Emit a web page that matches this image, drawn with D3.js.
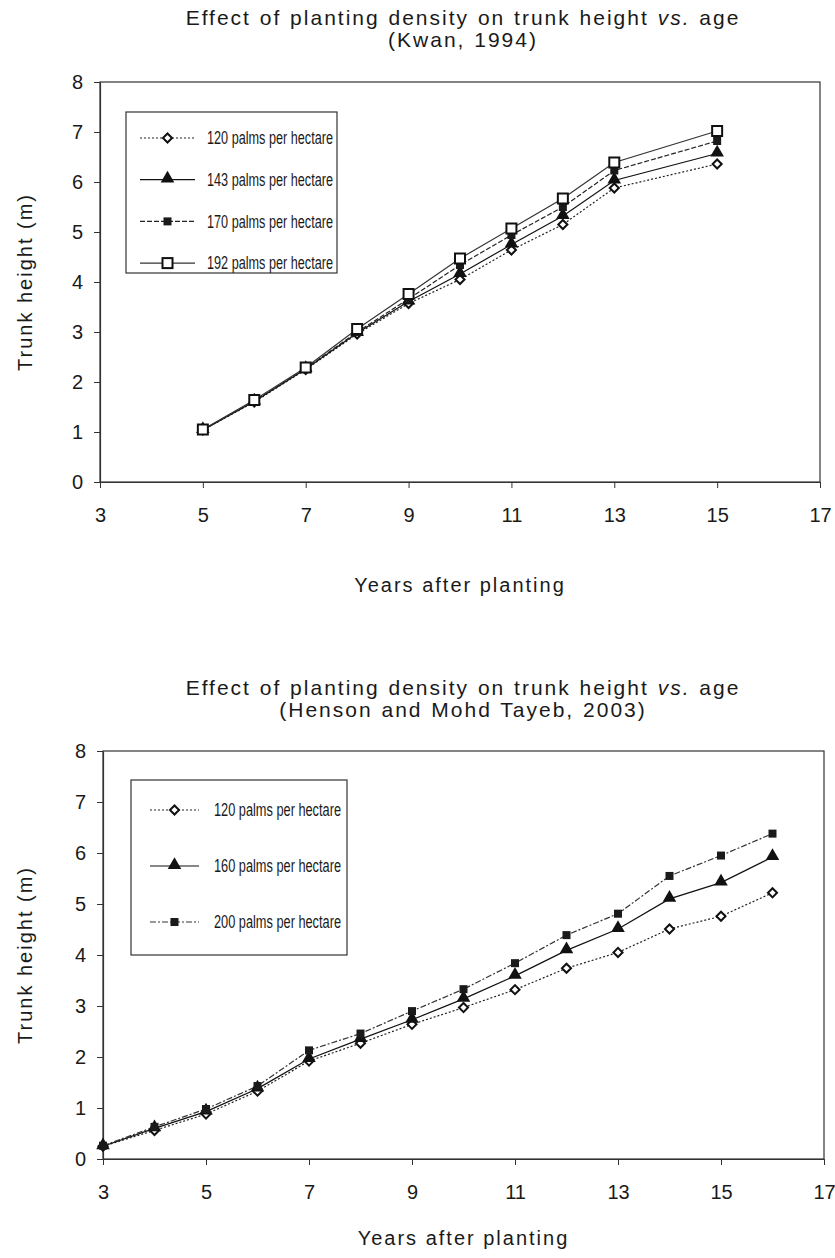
<!DOCTYPE html>
<html>
<head>
<meta charset="utf-8">
<title>Trunk height vs. age</title>
<script src="https://d3js.org/d3.v7.min.js"></script>
<style>
body {margin:0; background:white;}
svg text {font-family:"Liberation Sans", Arial, sans-serif; fill:#1a1a1a;}
.title {font-size:21px; letter-spacing:2px; word-spacing:1px;}
.axtitle {font-size:20px; letter-spacing:2px;}
.tick text {font-size:20px; font-family:"Liberation Sans", Arial, sans-serif;}
.legend text {font-family:"Liberation Sans Narrow", "Liberation Sans", sans-serif; font-size:17.5px;}
</style>
</head>
<body>
<svg width="835" height="1258"></svg>

<script>
// top chart: Kwan 1994
var kwan_years = [5,6,7,8,9,10,11,12,13,15]
var kwan_120 = [1.04,1.60,2.25,2.96,3.57,4.05,4.64,5.15,5.88,6.36]
var kwan_143 = [1.04,1.61,2.26,2.98,3.61,4.16,4.75,5.32,6.03,6.57]
var kwan_170 = [1.04,1.62,2.27,3.00,3.66,4.34,4.94,5.50,6.23,6.82]
var kwan_192 = [1.05,1.64,2.29,3.06,3.76,4.47,5.07,5.67,6.39,7.02]
var kwan_names = ['120 palms per hectare','143 palms per hectare','170 palms per hectare','192 palms per hectare']

// bottom chart: Henson and Mohd Tayeb 2003
var henson_years = [3,4,5,6,7,8,9,10,11,12,13,14,15,16]
var henson_120 = [0.25,0.56,0.88,1.33,1.92,2.27,2.64,2.97,3.32,3.74,4.05,4.51,4.76,5.22]
var henson_160 = [0.25,0.60,0.93,1.38,1.96,2.35,2.73,3.14,3.59,4.09,4.51,5.10,5.42,5.92]
var henson_200 = [0.26,0.63,0.98,1.43,2.13,2.46,2.90,3.33,3.84,4.39,4.81,5.55,5.95,6.38]
var henson_names = ['120 palms per hectare','160 palms per hectare','200 palms per hectare']

var x_ticks = [3,5,7,9,11,13,15,17]
var y_ticks = [0,1,2,3,4,5,6,7,8]

var svg = d3.select('svg')

// marker drawing
function marker(g, type, cx, cy) {
  if (type == 'diamond') {
    g.append('rect')
      .attr('x',-3.2).attr('y',-3.2).attr('width',6.4).attr('height',6.4)
      .attr('transform','translate('+cx+','+cy+') rotate(45)')
      .attr('fill','white').attr('stroke','#111').attr('stroke-width',2)
  } else if (type == 'triangle') {
    g.append('path')
      .attr('d', d3.symbol().type(d3.symbolTriangle).size(80))
      .attr('transform','translate('+cx+','+(cy-1)+')')
      .attr('fill','#111')
  } else if (type == 'square') {
    g.append('rect')
      .attr('x',cx-4).attr('y',cy-4).attr('width',8).attr('height',8)
      .attr('fill','#1a1a1a')
  } else if (type == 'opensquare') {
    g.append('rect')
      .attr('x',cx-5).attr('y',cy-5).attr('width',10).attr('height',10)
      .attr('fill','white').attr('stroke','#111').attr('stroke-width',2)
  }
}

function drawChart(o) {
  var x = d3.scaleLinear().domain([3,17]).range([o.left,o.right])
  var y = d3.scaleLinear().domain([0,8]).range([o.bottom,o.top])

  //title
  var t = svg.append('text').attr('class','title')
    .attr('text-anchor','middle').attr('x',463).attr('y',o.titleY)
  t.append('tspan').text('Effect of planting density on trunk height ')
  t.append('tspan').attr('font-style','italic').text('vs.')
  t.append('tspan').text(' age')
  svg.append('text').attr('class','title')
    .attr('text-anchor','middle').attr('x',463).attr('y',o.titleY+22)
    .text(o.sub)

  //plot frame
  svg.append('rect')
    .attr('x',o.left).attr('y',o.top)
    .attr('width',o.right-o.left).attr('height',o.bottom-o.top)
    .attr('fill','none').attr('stroke','#333').attr('stroke-width',1.2)

  //axes
  var xa = svg.append('g')
    .attr('transform','translate(0,'+o.bottom+')')
    .call(d3.axisBottom(x).tickValues(x_ticks).tickSize(6).tickPadding(20).tickSizeOuter(0))
  var ya = svg.append('g')
    .attr('transform','translate('+o.left+',0)')
    .call(d3.axisLeft(y).tickValues(y_ticks).tickSize(6).tickPadding(11).tickSizeOuter(0))
  xa.select('.domain').attr('stroke','#333').attr('stroke-width',1.2)
  ya.select('.domain').attr('stroke','#333').attr('stroke-width',1.2)
  xa.selectAll('.tick line').attr('stroke','#333')
  ya.selectAll('.tick line').attr('stroke','#333')

  //axis titles
  svg.append('text').attr('class','axtitle')
    .attr('text-anchor','middle')
    .attr('x',(o.left+o.right)/2).attr('y',o.xTitleY)
    .text('Years after planting')
  svg.append('text').attr('class','axtitle')
    .attr('text-anchor','middle')
    .attr('transform','translate(32,'+((o.top+o.bottom)/2)+') rotate(-90)')
    .text('Trunk height (m)')

  //lines and markers
  var line = d3.line().x(function(d,i){return x(o.years[i])}).y(function(d){return y(d)})
  o.series.forEach(function(s){
    svg.append('path')
      .datum(s.values)
      .attr('d',line)
      .attr('fill','none')
      .attr('stroke',s.color)
      .attr('stroke-width',1.2)
      .attr('stroke-dasharray',s.dash)
  })
  o.series.forEach(function(s){
    var g = svg.append('g')
    s.values.forEach(function(d,i){ marker(g, s.mark, x(o.years[i]), y(d)) })
  })

  //legend
  var lg = svg.append('g').attr('class','legend')
  lg.append('rect')
    .attr('x',o.leg.x).attr('y',o.leg.y).attr('width',o.leg.w).attr('height',o.leg.h)
    .attr('fill','white').attr('stroke','#333').attr('stroke-width',1.2)
  o.series.forEach(function(s,i){
    var ly = o.leg.y + o.leg.first + i*o.leg.step
    lg.append('line')
      .attr('x1',o.leg.x+o.leg.l1).attr('x2',o.leg.x+o.leg.l2)
      .attr('y1',ly).attr('y2',ly)
      .attr('stroke',s.color).attr('stroke-width',1.2).attr('stroke-dasharray',s.dash)
    marker(lg, s.mark, o.leg.x+(o.leg.l1+o.leg.l2)/2, ly)
    // narrow legend font: squeeze the text to the reference width
    lg.append('text')
      .attr('x',o.leg.x+o.leg.tx).attr('y',ly).attr('dy','0.35em')
      .attr('textLength',o.leg.tw).attr('lengthAdjust','spacingAndGlyphs')
      .text(s.name)
  })
}

drawChart({
  left:100, right:820, top:82, bottom:482,
  titleY:25, sub:'(Kwan, 1994)', xTitleY:592,
  years:kwan_years,
  series:[
    {values:kwan_120, name:kwan_names[0], mark:'diamond', dash:'2,2', color:'#222'},
    {values:kwan_143, name:kwan_names[1], mark:'triangle', dash:null, color:'#111'},
    {values:kwan_170, name:kwan_names[2], mark:'square', dash:'5,2', color:'#222'},
    {values:kwan_192, name:kwan_names[3], mark:'opensquare', dash:null, color:'#333'}
  ],
  leg:{x:126, y:112, w:211, h:161, first:26, step:41.7, l1:14, l2:69, tx:81, tw:126}
})

drawChart({
  left:103, right:824, top:751, bottom:1159,
  titleY:695, sub:'(Henson and Mohd Tayeb, 2003)', xTitleY:1245,
  years:henson_years,
  series:[
    {values:henson_120, name:henson_names[0], mark:'diamond', dash:'2,2', color:'#222'},
    {values:henson_160, name:henson_names[1], mark:'triangle', dash:null, color:'#111'},
    {values:henson_200, name:henson_names[2], mark:'square', dash:'6,2,2,2', color:'#333'}
  ],
  leg:{x:131, y:780, w:216, h:175, first:30, step:56, l1:19, l2:68, tx:83, tw:127}
})
</script>
</body>
</html>
